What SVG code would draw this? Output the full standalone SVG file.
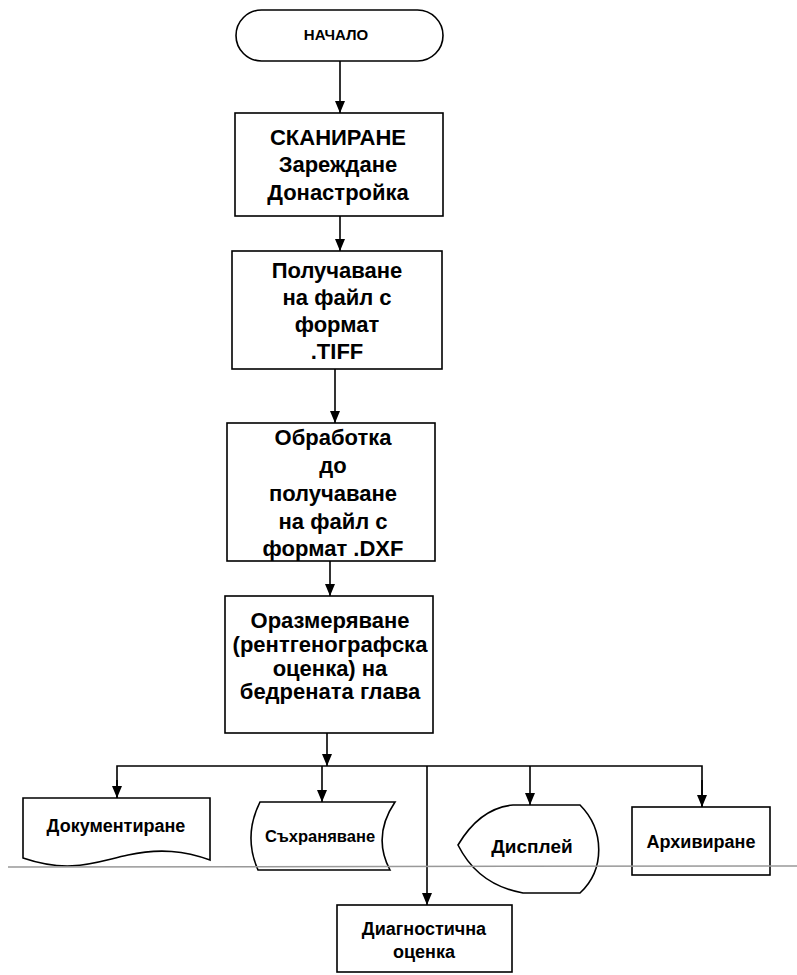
<svg xmlns="http://www.w3.org/2000/svg" width="797" height="975" viewBox="0 0 797 975">
<defs>
<marker id="ah" viewBox="0 0 12 10" refX="12" refY="5" markerWidth="12" markerHeight="10" markerUnits="userSpaceOnUse" orient="auto">
<path d="M0,0 L12,5 L0,10 Z" fill="#000"/>
</marker>
<style>
.s{fill:#fff;stroke:#000;stroke-width:1.6}
.t{font-family:"Liberation Sans",Arial,sans-serif;font-weight:bold;fill:#000;text-anchor:middle}
.b{font-size:22px}
.m{font-size:18px}
.h{font-size:15px}
.c{fill:none;stroke:#000;stroke-width:1.6}
</style>
</defs>
<rect width="797" height="975" fill="#fff"/>
<g id="n_start">
<rect class="s" x="236" y="10" width="207" height="51" rx="25.5"/>
<text class="t h" x="336" y="40">НАЧАЛО</text>
</g>
<g id="n_scan">
<rect class="s" x="235" y="113" width="208" height="103"/>
<text class="t b" x="338" y="145">СКАНИРАНЕ</text>
<text class="t b" x="338" y="172">Зареждане</text>
<text class="t b" x="338" y="200">Донастройка</text>
</g>
<g id="n_tiff">
<rect class="s" x="232" y="251" width="210" height="118"/>
<text class="t b" x="337" y="278">Получаване</text>
<text class="t b" x="337" y="305">на файл с</text>
<text class="t b" x="337" y="332">формат</text>
<text class="t b" x="337" y="359">.TIFF</text>
</g>
<g id="n_dxf">
<rect class="s" x="227" y="423" width="208" height="138"/>
<text class="t b" x="333" y="445">Обработка</text>
<text class="t b" x="333" y="473">до</text>
<text class="t b" x="333" y="501">получаване</text>
<text class="t b" x="333" y="529">на файл с</text>
<text class="t b" x="333" y="556">формат .DXF</text>
</g>
<g id="n_measure">
<rect class="s" x="225" y="596" width="208" height="137"/>
<text class="t b" x="330" y="628">Оразмеряване</text>
<text class="t b" x="330" y="652">(рентгенографска</text>
<text class="t b" x="330" y="676">оценка) на</text>
<text class="t b" x="330" y="699">бедрената глава</text>
</g>
<g id="n_doc">
<path class="s" d="M23,798 L210,798 L210,860 C185,851 160,848 128,855 C95,862 70,874 23,858 Z"/>
<text class="t m" x="116" y="832">Документиране</text>
</g>
<g id="n_store">
<path class="s" d="M260,802 L395,802 Q372,836 390,870 L258,870 Q243,836 260,802 Z"/>
<text class="t m" x="320" y="842" style="font-size:16.5px">Съхраняване</text>
</g>
<g id="n_display">
<path class="s" d="M458,845 Q480,808 513,805 L580,805 C605,830 605,870 580,893 L523,893 Q478,885 458,845 Z"/>
<text class="t m" x="532" y="853" style="font-size:19px">Дисплей</text>
</g>
<g id="n_archive">
<rect class="s" x="632" y="807" width="138" height="68"/>
<text class="t m" x="701" y="848">Архивиране</text>
</g>
<g id="n_diag">
<rect class="s" x="337" y="905" width="175" height="67"/>
<text class="t m" x="424" y="935">Диагностична</text>
<text class="t m" x="424" y="958">оценка</text>
</g>
<g id="connectors">
<line class="c" x1="340" y1="61" x2="340" y2="113" marker-end="url(#ah)"/>
<line class="c" x1="340" y1="216" x2="340" y2="251" marker-end="url(#ah)"/>
<line class="c" x1="335" y1="369" x2="335" y2="423" marker-end="url(#ah)"/>
<line class="c" x1="330" y1="561" x2="330" y2="596" marker-end="url(#ah)"/>
<line class="c" x1="327" y1="733" x2="327" y2="766" marker-end="url(#ah)"/>
<polyline class="c" points="117,798 117,766 702,766 702,807"/>
<line class="c" x1="117" y1="780" x2="117" y2="798" marker-end="url(#ah)"/>
<line class="c" x1="702" y1="780" x2="702" y2="807" marker-end="url(#ah)"/>
<line class="c" x1="322" y1="766" x2="322" y2="802" marker-end="url(#ah)"/>
<line class="c" x1="427" y1="766" x2="427" y2="905" marker-end="url(#ah)"/>
<line class="c" x1="530" y1="766" x2="530" y2="805" marker-end="url(#ah)"/>
</g>
<line x1="8" y1="867" x2="797" y2="866" stroke="#999" stroke-width="1.5"/>
</svg>
